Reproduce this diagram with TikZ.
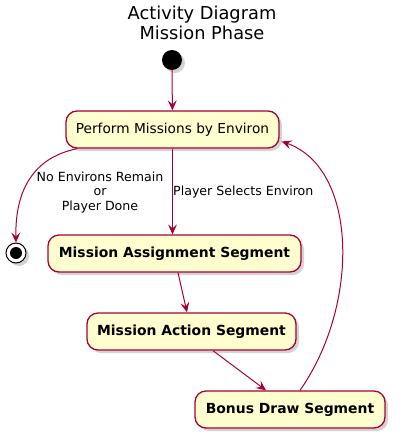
\documentclass[tikz,border=0pt]{standalone}
\usepackage{fontspec}
\setmainfont{DejaVu Sans}
\usetikzlibrary{shadows,arrows.meta,calc}
\definecolor{umlred}{HTML}{A80036}
\definecolor{umlfill}{HTML}{FEFECE}
\tikzset{
  act/.style={draw=umlred, fill=umlfill, line width=1.3pt, rounded corners=11pt,
    minimum height=37pt, inner sep=0pt, font=\fontsize{13.7}{16}\selectfont,
    drop shadow={shadow xshift=3pt, shadow yshift=-3pt, opacity=0.35, fill=gray}},
  bact/.style={act, font=\fontsize{13.9}{16}\selectfont\bfseries},
  flow/.style={draw=umlred, line width=1pt, -{Stealth[length=10pt,width=9pt,inset=4pt]}},
  elabel/.style={font=\fontsize{12.6}{14.5}\selectfont, inner sep=0pt, align=center},
}
\begin{document}
\begin{tikzpicture}[x=1pt,y=-1pt]
\useasboundingbox (0,0) rectangle (403,437);
\node[font=\fontsize{17.8}{20}\selectfont, align=center, inner sep=0pt] (title) at (202,23) {Activity Diagram\\Mission Phase};
\node[circle, fill=black, minimum size=20pt, inner sep=0pt,
  drop shadow={shadow xshift=3pt, shadow yshift=-3pt, opacity=0.35, fill=gray}] (start) at (172,60) {};
\node[act, minimum width=213pt] (perf) at (172.5,129.5) {Perform Missions by Environ};
\node[bact, minimum width=253pt] (assign) at (174.5,253.5) {Mission Assignment Segment};
\node[bact, minimum width=209pt] (action) at (191.5,331.5) {Mission Action Segment};
\node[bact, minimum width=190pt] (bonus) at (290,409.5) {Bonus Draw Segment};
\node[circle, draw=black, fill=white, line width=1pt, minimum size=20pt, inner sep=0pt,
  drop shadow={shadow xshift=3pt, shadow yshift=-3pt, opacity=0.35, fill=gray}] (stop) at (16,253) {};
\node[circle, fill=black, minimum size=12pt, inner sep=0pt] (stopin) at (stop.center) {};

\draw[flow] (start) -- (perf);
\draw[flow] ($(perf.south west)+(12,0)$) .. controls (30,158) and (15,195) .. (stop.north);
\draw[flow] (perf.south) -- (perf.south |- assign.north);
\draw[flow] ($(assign.south)+(3.5,0)$) -- ($(action.north)+(-4.5,0)$);
\draw[flow] ($(action.south)+(21.5,0)$) -- ($(bonus.north)+(-24,0)$);
\draw[flow] ($(bonus.north)+(10,0)$) .. controls (360,305) and (358,168) .. ($(perf.east)+(2,12)$);

\node[elabel] (lend) at (100,192.5) {No Environs Remain\\or\\Player Done};
\node[elabel, anchor=west] (lsel) at (173,192) {Player Selects Environ};
\end{tikzpicture}
\end{document}
